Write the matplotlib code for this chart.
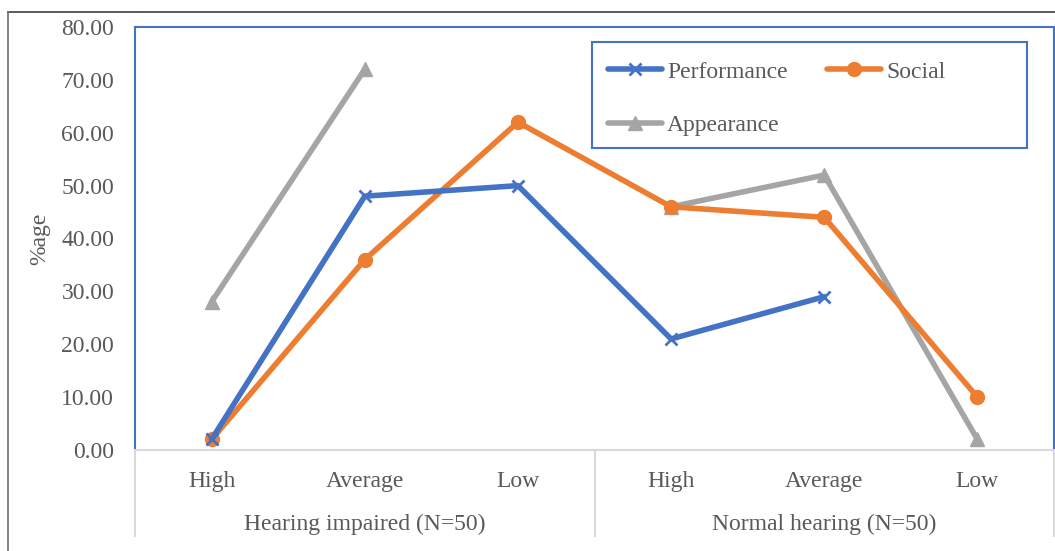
import numpy as np
import matplotlib
matplotlib.use("Agg")
import matplotlib.pyplot as plt
from matplotlib.patches import Rectangle
from matplotlib.lines import Line2D
import matplotlib.transforms as mtransforms

# Data
categories = ["High", "Average", "Low", "High", "Average", "Low"]
groups = ["Hearing impaired (N=50)", "Normal hearing (N=50)"]
performance = [2, 48, 50, 21, 29, np.nan]
social = [2, 36, 62, 46, 44, 10]
appearance = [28, 72, np.nan, 46, 52, 2]

text_color = "#595959"
blue = "#4472C4"
orange = "#ED7D31"
gray = "#A5A5A5"
axis_gray = "#D9D9D9"
fs = 17

plt.rcParams["font.family"] = ["Liberation Serif", "DejaVu Serif"]

W, H = 1055, 551
fig = plt.figure(figsize=(W / 100, H / 100), dpi=100)
ax = fig.add_axes([135 / W, 1 - 450 / H, (1054 - 135) / W, (450 - 27) / H])

x = np.arange(len(categories))
common = dict(linewidth=4, solid_joinstyle="round", solid_capstyle="round", clip_on=False)
ax.plot(x, appearance, color=gray, marker="^", markersize=10, label="Appearance", zorder=3, **common)
ax.plot(x, social, color=orange, marker="o", markersize=10, label="Social", zorder=4, **common)
ax.plot(x, performance, color=blue, marker="x", markersize=8, markeredgewidth=2,
        label="Performance", zorder=5, **common)

ax.set_xlim(-0.5, len(categories) - 0.5)
ax.set_ylim(0, 80)
ax.set_yticks(np.arange(0, 81, 10))
ax.set_yticklabels([f"{v:.2f}" for v in np.arange(0, 81, 10)])
ax.set_xticks(x)
ax.set_xticklabels(categories)
ax.tick_params(axis="both", length=0, labelsize=fs, labelcolor=text_color)
ax.tick_params(axis="x", pad=15)
ax.tick_params(axis="y", pad=15)

for side in ["left", "right", "top"]:
    ax.spines[side].set_color(blue)
    ax.spines[side].set_linewidth(1.5)
ax.spines["bottom"].set_color(axis_gray)
ax.spines["bottom"].set_linewidth(1.5)

ax.set_ylabel("%age", fontsize=fs, color=text_color, labelpad=8)

# group labels and separators below the axis
trans = mtransforms.blended_transform_factory(ax.transData, ax.transAxes)
for i, g in enumerate(groups):
    ax.text(i * 3 + 1, -0.177, g, transform=trans, ha="center", va="center",
            fontsize=fs, color=text_color)
for xs in [-0.5, 2.5, 5.5]:
    ax.plot([xs, xs], [0, -0.204], transform=trans, color=axis_gray, linewidth=1.5,
            clip_on=False, zorder=1)

# legend with a separate frame (order gives Performance, Social / Appearance in rows)
h_perf = Line2D([], [], color=blue, marker="x", markersize=8, markeredgewidth=2, linewidth=4,
                solid_capstyle="round")
h_soc = Line2D([], [], color=orange, marker="o", markersize=10, linewidth=4, solid_capstyle="round")
h_app = Line2D([], [], color=gray, marker="^", markersize=10, linewidth=4, solid_capstyle="round")
leg = ax.legend([h_perf, h_app, h_soc], ["Performance", "Appearance", "Social"], ncol=2,
                frameon=False, fontsize=fs, loc="upper left",
                bbox_to_anchor=(592 / W, 1 - 45 / H), bbox_transform=fig.transFigure,
                borderaxespad=0, handlelength=2.3, handletextpad=0.2, columnspacing=1.66,
                labelspacing=1.37, borderpad=0.68, labelcolor=text_color)
fig.patches.append(Rectangle((592 / W, 1 - 148 / H), (1027 - 592) / W, (148 - 42) / H,
                             transform=fig.transFigure, fill=False, edgecolor=blue,
                             linewidth=1.5, zorder=10))

# outer border
fig.add_artist(Line2D([8 / W, 1], [1 - 12 / H, 1 - 12 / H], color="#404040", linewidth=1.2))
fig.add_artist(Line2D([8 / W, 8 / W], [0, 1 - 12 / H], color="#707070", linewidth=1.2))

fig.savefig("out.png", dpi=100)
